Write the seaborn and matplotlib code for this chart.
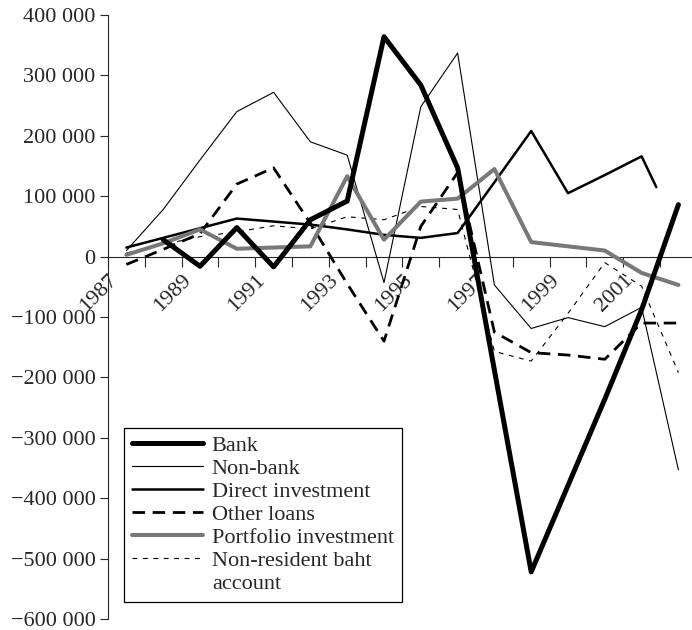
import numpy as np
import seaborn as sns
import matplotlib
matplotlib.use("Agg")
from matplotlib import pyplot as plt
from matplotlib.lines import Line2D
from matplotlib.ticker import FixedLocator, FuncFormatter

# Data
years = list(range(1987, 2003))

bank_years = list(range(1988, 2003))
bank = [28000, -16000, 48000, -17000, 61000, 92000, 364000, 284000, 147000,
        -188000, -522000, -379000, -236000, -88000, 86000]

non_bank = [10000, 78000, 160000, 240000, 272000, 190000, 168000, -43000,
            248000, 337000, -47000, -119000, -101000, -116000, -84000, -353000]

direct_years = list(range(1987, 2002)) + [2001.4]
direct = [15000, 31000, 47000, 63000, 58000, 53000, 45000, 36000, 31000,
          39000, 123000, 208000, 105000, 135000, 166000, 115000]

other_loans = [-13000, 12000, 38000, 120000, 147000, 55000, -45000, -140000,
               50000, 139000, -125000, -159000, -163000, -170000, -110000, -110000]

portfolio = [3000, 22000, 45000, 13000, 15000, 17000, 133000, 28000,
             91000, 96000, 145000, 24000, 17000, 10000, -27000, -47000]

nonres_baht = [6000, 20000, 33000, 41000, 51000, 46000, 66000, 61000,
               83000, 78000, -157000, -173000, -94000, -10000, -49000, -192000]

label_years = [1987, 1989, 1991, 1993, 1995, 1997, 1999, 2001]

# Style
sns.set_style("ticks")
plt.rcParams["font.family"] = ["Liberation Serif", "DejaVu Serif"]
plt.rcParams["lines.scale_dashes"] = False
plt.rcParams["axes.linewidth"] = 0.8

fig = plt.figure(figsize=(6.92, 6.30), dpi=100)
ax = fig.add_axes([108 / 692, 1 - 619 / 630, 1 - 108 / 692, (619 - 15) / 630])

sns.lineplot(x=years, y=non_bank, ax=ax, color="black", lw=0.8,
             label="Non-bank", zorder=3)
sns.lineplot(x=direct_years, y=direct, ax=ax, color="black", lw=1.8,
             label="Direct investment", zorder=3)
sns.lineplot(x=years, y=other_loans, ax=ax, color="black", lw=2.0,
             linestyle=(0, (9, 5.5)), label="Other loans", zorder=3)
sns.lineplot(x=years, y=nonres_baht, ax=ax, color="black", lw=0.8,
             linestyle=(0, (3.5, 4)), label="Non-resident baht", zorder=3)
sns.lineplot(x=years, y=portfolio, ax=ax, color="#787878", lw=2.9,
             label="Portfolio investment", zorder=4)
sns.lineplot(x=bank_years, y=bank, ax=ax, color="black", lw=3.6,
             label="Bank", zorder=5)

ax.set_xlim(1986.5, 1986.5 + 584 / 36.8)
ax.set_ylim(-600000, 400000)

# x axis sits at zero, ticks at category boundaries
ax.spines["bottom"].set_position(("data", 0))
ax.spines["top"].set_visible(False)
ax.spines["right"].set_visible(False)
bounds = [y - 0.5 for y in years] + [years[-1] + 0.5]
ax.xaxis.set_major_locator(FixedLocator(bounds))
ax.set_xticklabels([str(int(b + 0.5)) if int(b + 0.5) in label_years else ""
                    for b in bounds])
ax.tick_params(axis="x", direction="out", length=7, width=0.8, pad=3,
               labelsize=16)
for t in ax.get_xticklabels():
    t.set_rotation(45)
    t.set_ha("right")
    t.set_va("top")
    t.set_rotation_mode("anchor")

ax.set_yticks(np.arange(-600000, 400001, 100000))
ax.yaxis.set_major_formatter(FuncFormatter(
    lambda v, p: ("\u2212" if v < 0 else "") + f"{abs(v):,.0f}".replace(",", " ")))
ax.tick_params(axis="y", direction="out", length=6, width=0.8, pad=3,
               labelsize=16)
ax.set_xlabel("")
ax.set_ylabel("")

# legend: the wrapped label's second line gets its own row with no line
handles, labels = ax.get_legend_handles_labels()
order = ["Bank", "Non-bank", "Direct investment", "Other loans",
         "Portfolio investment", "Non-resident baht"]
hmap = dict(zip(labels, handles))
blank = Line2D([], [], color="none")
leg = ax.legend([hmap[k] for k in order] + [blank], order + ["account"],
                loc="lower left", bbox_to_anchor=(16 / 584, 17 / 604),
                borderaxespad=0, frameon=True, fancybox=False,
                edgecolor="black", fontsize=16, handlelength=3.2,
                handletextpad=0.4, labelspacing=0.11, borderpad=0.35)
leg.get_frame().set_linewidth(0.9)
leg.get_frame().set_alpha(1)

plt.savefig("out.png", dpi=100)
